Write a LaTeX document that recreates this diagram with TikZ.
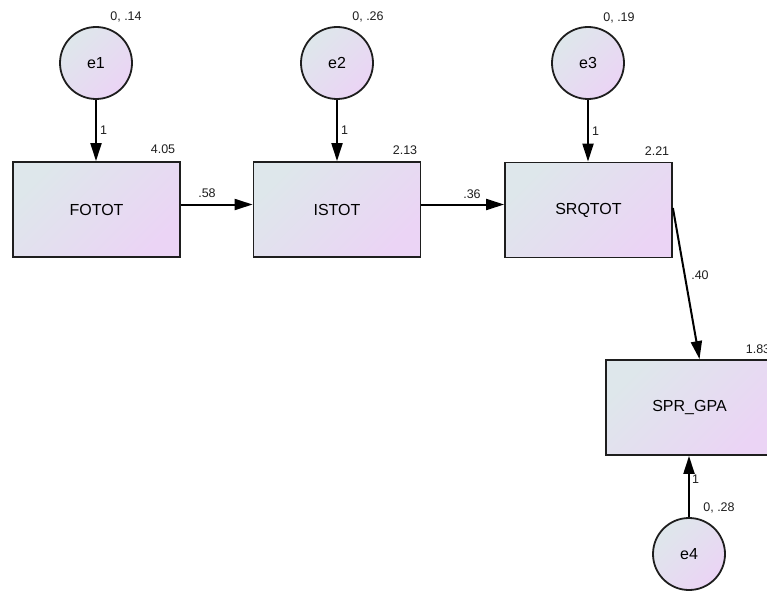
\documentclass[tikz,border=0pt]{standalone}
\usepackage{fontspec}
\setmainfont{Liberation Sans}
\usetikzlibrary{arrows.meta}

\definecolor{fillA}{RGB}{222,231,235}
\definecolor{fillB}{RGB}{235,212,245}
\definecolor{inkgrey}{RGB}{30,30,30}

\tikzset{
  varbox/.style={draw=inkgrey, line width=1.8pt, minimum width=167pt, minimum height=95pt,
    left color=fillA, right color=fillB, shading angle=45, inner sep=0pt,
    font=\fontsize{16}{16}\selectfont},
  errcirc/.style={circle, draw=inkgrey, line width=1.8pt, minimum size=72pt,
    left color=fillA, right color=fillB, shading angle=45, inner sep=0pt,
    font=\fontsize{16}{16}\selectfont},
  est/.style={font=\fontsize{12.5}{12.5}\selectfont, text=inkgrey, inner sep=0pt},
  regarrow/.style={draw=black, line width=2pt, -{Triangle[length=18pt, width=11pt]}},
}

\begin{document}
\begin{tikzpicture}[x=1pt, y=-1pt]
  \useasboundingbox (0,0) rectangle (767,591);
  \clip (0,0) rectangle (767,591);
  \fill[white] (0,0) rectangle (767,591);

  % observed variables
  \node[varbox] (fotot) at (96.5,209.5) {FOTOT};
  \node[varbox] (istot) at (337,209.5) {ISTOT};
  \node[varbox] (srq)   at (588.5,210) {SRQTOT};
  \node[varbox] (spr)   at (689.5,407.5) {SPR\_GPA};

  % error terms
  \node[errcirc] (e1) at (96,63) {e1};
  \node[errcirc] (e2) at (337,63) {e2};
  \node[errcirc] (e3) at (588,63) {e3};
  \node[errcirc] (e4) at (689,554) {e4};

  % error paths
  \draw[regarrow] (e1.south) -- (e1.south |- fotot.north) node[est, midway, right=3pt] (w1) {1};
  \draw[regarrow] (e2.south) -- (e2.south |- istot.north) node[est, midway, right=3pt] (w2) {1};
  \draw[regarrow] (e3.south) -- (e3.south |- srq.north) node[est, midway, right=3pt] (w3) {1};
  \draw[regarrow] (e4.north) -- (e4.north |- spr.south) node[est, pos=0.62, right=2pt] (w4) {1};

  % structural paths
  \draw[regarrow] ([yshift=5pt]fotot.east) -- ([yshift=5pt]istot.west);
  \draw[regarrow] ([yshift=5pt]istot.east) -- ([yshift=5pt]istot.east -| srq.west);
  \draw[regarrow] ([yshift=2pt]srq.east) -- ([xshift=10pt]spr.north);

  % path coefficients
  \node[est] (b1) at (207,193) {.58};
  \node[est] (b2) at (472,194) {.36};
  \node[est] (b3) at (700,275) {.40};

  % intercepts and variances
  \node[est] (v1) at (126,17) {0, .14};
  \node[est] (v2) at (368,17) {0, .26};
  \node[est] (v3) at (619,18) {0, .19};
  \node[est] (v4) at (719,508) {0, .28};

  \node[est] (m1) at (163,149) {4.05};
  \node[est] (m2) at (405,150) {2.13};
  \node[est] (m3) at (657,151) {2.21};
  \node[est] (m4) at (758,349) {1.83};
\end{tikzpicture}
\end{document}
